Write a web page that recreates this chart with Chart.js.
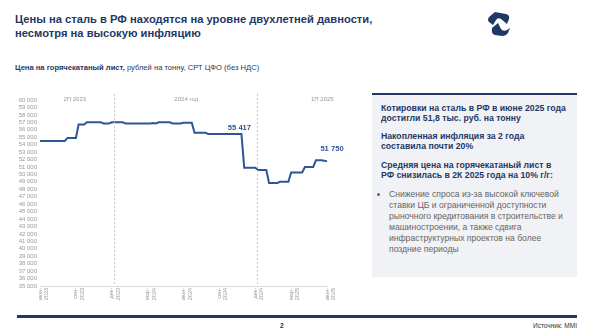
<!DOCTYPE html>
<html lang="ru">
<head>
<meta charset="UTF-8">
<title>Цены на сталь в РФ</title>
<script src="https://cdn.jsdelivr.net/npm/chart.js"></script>
<style>
  html, body { margin: 0; padding: 0; background: #fff; }
  body { width: 592px; height: 333px; position: relative; overflow: hidden; font-family: "Liberation Sans", Arial, sans-serif; }
  .title { position: absolute; left: 15px; top: 12px; font-size: 11.2px; line-height: 14px; font-weight: bold; color: #1f3864; }
  .sub { position: absolute; left: 15px; top: 63px; font-size: 7.6px; color: #1f3864; }
  .sub b { color: #1f3864; }
  .logo { position: absolute; left: 486px; top: 11px; }
  #wrap { position: absolute; left: 0; top: 90px; width: 360px; height: 222px; }
  .panel { position: absolute; left: 372px; top: 93px; width: 205px; height: 184px; background: #f1f2f5; border-top: 2px solid #1f3864; box-sizing: border-box; padding: 8px 6px 0 9px; }
  .panel p { margin: 0 0 8px 0; font-size: 8.7px; line-height: 10px; font-weight: bold; color: #1f3864; }
  .panel p.last { margin-bottom: 9px; }
  .panel ul { margin: 0; padding: 0 0 0 8px; font-size: 8.6px; line-height: 11px; color: #666; }
  .panel li { margin: 0; }
  .band { position: absolute; left: 17px; top: 315px; width: 560px; height: 3px; background: #1f3864; }
  .page { position: absolute; left: 280px; top: 322px; font-size: 6.5px; font-weight: bold; color: #333; }
  .src { position: absolute; right: 15px; top: 322px; font-size: 6.5px; color: #333; }
</style>
</head>
<body>

<div class="title">Цены на сталь в РФ находятся на уровне двухлетней давности,<br>несмотря на высокую инфляцию</div>
<div class="sub"><b>Цена на горячекатаный лист,</b> рублей на тонну, СРТ ЦФО (без НДС)</div>

<svg class="logo" width="26" height="26" viewBox="0 0 26 26">
  <path d="M9 1 L20 3 Q24 4 23 8 L21 13 L15 8 Q12 6 10 9 L7 14 L3 11 Q1 9 3 6 Z" fill="#1f3864"/>
  <path d="M6 17 L12 12 L15 18 Q17 21 21 19 L24 17 L22 22 Q20 25 16 25 L9 24 Q5 23 6 17 Z" fill="#1f3864"/>
</svg>

<div id="wrap"><canvas id="myChart"></canvas></div>

<div class="panel">
  <p>Котировки на сталь в РФ в июне 2025 года достигли 51,8 тыс. руб. на тонну</p>
  <p class="last">Накопленная инфляция за 2 года<br>составила почти 20%</p>
  <p class="last">Средняя цена на горячекатаный лист в<br>РФ снизилась в 2К 2025 года на 10% г/г:</p>
  <ul><li>Снижение спроса из-за высокой ключевой ставки ЦБ и ограниченной доступности рыночного кредитования в строительстве и машиностроении, а также сдвига инфраструктурных проектов на более поздние периоды</li></ul>
</div>

<div class="band"></div>
<div class="page">2</div>
<div class="src">Источник: MMI</div>

<script>
// недельные котировки, руб./т (июн-2023 ... июн-2025)
const prices = [
  54500, 54500, 54500, 54500, 54500, 54500, 54500, 54500, 54500, 54500,
  54900, 54900, 54900, 54900,
  56700, 56700, 56700,
  57000, 57000, 57000, 57000, 57000, 57000,
  56850, 56850, 56850,
  57000, 57000, 57000, 57000, 57000,
  56850, 56850, 56850, 56850, 56850, 56850, 56850, 56850, 56850, 56850,
  56900, 56850,
  57000, 57000, 57000, 57000, 57000,
  56850, 56850, 56850, 56850,
  56950, 56950, 56950, 56950,
  55600, 55600, 55600, 55600, 55600,
  55417, 55417, 55417, 55417, 55417, 55417, 55417, 55417, 55417, 55417, 55417, 55417, 55417,
  50900, 50900, 50900, 50900, 50900,
  50600, 50600, 50600, 50600,
  48850, 48850, 48850, 48850,
  49000, 49000, 49000, 49000,
  50250, 50250, 50250, 50250, 50250,
  51000, 51000, 51000, 51000,
  51900, 51900, 51900,
  51850,
  51750
];
const tickLabels = ['июн-2023', 'сен-2023', 'дек-2023', 'мар-2024', 'июн-2024', 'сен-2024', 'дек-2024', 'мар-2025', 'июн-2025'];
const tickStep = 13;
const periods = ['2П 2023', '2024 год', '1П 2025'];
const periodPos = [12.6, 53, 102.3];
const dividers = [26.8, 78.8];
const markIdx = [73, 104];
const markText = ['55 417', '51 750'];

const labels = prices.map((v, i) => i % tickStep === 0 ? tickLabels[i / tickStep] : '');
const lineBlue = '#2f5597';

const fmt = n => String(n).replace(/\B(?=(\d{3})+(?!\d))/g, ' ');

const extras = {
  id: 'extras',
  afterDatasetsDraw(chart) {
    const ctx = chart.ctx, x = chart.scales.x, area = chart.chartArea;
    ctx.save();
    ctx.strokeStyle = '#c8c8c8';
    ctx.lineWidth = 1;
    ctx.setLineDash([2, 2]);
    dividers.forEach(d => {
      const px = Math.round(x.getPixelForValue(d)) + 0.5;
      ctx.beginPath();
      ctx.moveTo(px, area.top - 6);
      ctx.lineTo(px, area.bottom);
      ctx.stroke();
    });
    ctx.setLineDash([]);
    ctx.fillStyle = '#999';
    ctx.font = '6px "Liberation Sans", Arial, sans-serif';
    ctx.textAlign = 'center';
    ctx.textBaseline = 'middle';
    periods.forEach((p, i) => ctx.fillText(p, x.getPixelForValue(periodPos[i]), area.top - 1));

    ctx.fillStyle = lineBlue;
    ctx.font = 'bold 7.6px "Liberation Sans", Arial, sans-serif';
    ctx.textBaseline = 'alphabetic';
    const meta = chart.getDatasetMeta(0);
    const p1 = meta.data[markIdx[0]];
    ctx.fillText(markText[0], p1.x - 2, p1.y - 4);
    const p2 = meta.data[markIdx[1]];
    ctx.fillText(markText[1], p2.x + 5, p2.y - 10);
    ctx.restore();
  }
};

const ctx = document.getElementById('myChart').getContext('2d');
new Chart(ctx, {
  type: 'line',
  data: {
    labels: labels,
    datasets: [{
      data: prices,
      borderColor: lineBlue,
      borderWidth: 2,
      pointRadius: 0,
      tension: 0,
      fill: false
    }]
  },
  options: {
    responsive: true,
    maintainAspectRatio: false,
    animation: false,
    events: [],
    layout: { padding: { top: 10, right: 33, left: 0, bottom: 0 } },
    plugins: { legend: { display: false }, tooltip: { enabled: false } },
    scales: {
      x: {
        grid: { display: false, drawTicks: false },
        border: { display: true, color: '#d9d9d9' },
        afterFit: s => { s.height = 26; },
        ticks: {
          autoSkip: false,
          minRotation: 90,
          maxRotation: 90,
          padding: 2,
          color: '#999',
          font: { size: 5.5, family: '"Liberation Sans", Arial, sans-serif' },
          callback: function (v, i) {
            const l = labels[i];
            return l ? [l.split('-')[0] + '-', l.split('-')[1]] : '';
          }
        }
      },
      y: {
        min: 35000,
        max: 60000,
        grid: { display: false, drawTicks: false },
        border: { display: false },
        afterFit: s => { s.width = 40; },
        ticks: {
          stepSize: 1000,
          autoSkip: false,
          padding: 3,
          color: '#999',
          font: { size: 6, family: '"Liberation Sans", Arial, sans-serif' },
          callback: v => fmt(v)
        }
      }
    }
  },
  plugins: [extras]
});
</script>
</body>
</html>
